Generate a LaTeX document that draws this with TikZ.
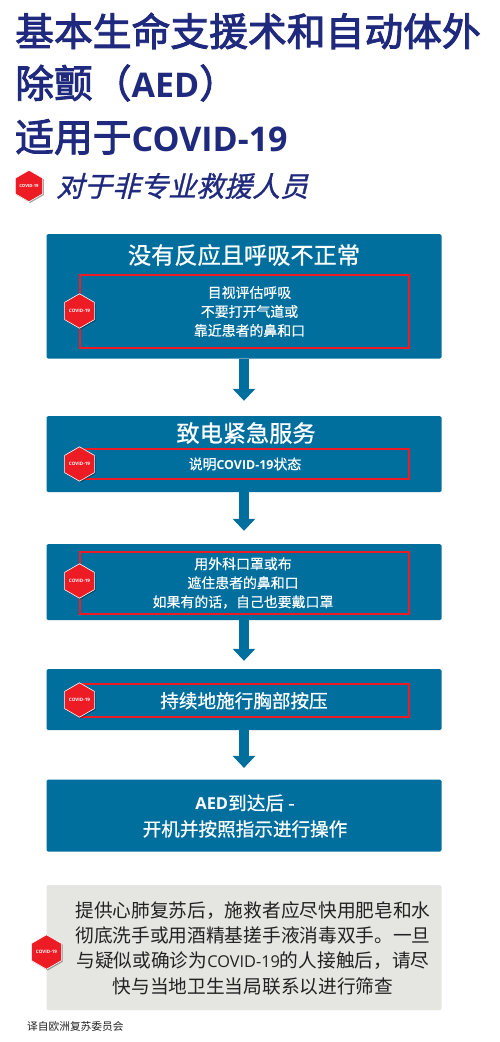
\documentclass[tikz,border=0pt]{standalone}
\usepackage{fontspec}
\setmainfont{Noto Sans CJK SC}
\newfontfamily\slantcjk[FakeSlant=0.25,FakeBold=1]{Noto Sans CJK SC}
\newfontfamily\titlecjk[FakeBold=2.4]{Noto Sans CJK SC}
\newfontfamily\headcjk[FakeBold=0.8]{Noto Sans CJK SC}
\newfontfamily\subcjk[FakeBold=0.35]{Noto Sans CJK SC}
\newfontfamily\latinf{Open Sans}
\usetikzlibrary{shapes.geometric,shadows,arrows.meta}
\definecolor{titleblue}{HTML}{1F2A7E}
\definecolor{boxblue}{HTML}{006F9E}
\definecolor{alertred}{HTML}{ED1C24}
\definecolor{notegray}{HTML}{E5E6E1}
\definecolor{notetext}{HTML}{222222}
\newcommand{\fsz}[2]{\fontsize{#1}{#2}\selectfont}
\newcommand{\lat}[2]{{\latinf\fontsize{#1}{#1}\selectfont #2}}
\newcommand{\latb}[2]{{\latinf\bfseries\fontsize{#1}{#1}\selectfont #2}}
\tikzset{
  x=1pt,y=-1pt,
  flowbox/.style={rectangle,fill=boxblue,rounded corners=1.5pt,minimum width=395pt,inner sep=0pt},
  notebox/.style={rectangle,fill=notegray,rounded corners=1.5pt,minimum width=395pt,inner sep=0pt},
  redbox/.style={rectangle,draw=alertred,line width=1.7pt,minimum width=329pt,inner sep=0pt},
  hexa/.style={regular polygon,regular polygon sides=6,shape border rotate=30,fill=alertred,draw=white,line width=.6pt,
    minimum size=31pt,inner sep=0pt,text=white,font=\latinf\bfseries\fsz{4.6}{5},
    drop shadow={shadow xshift=1.2pt,shadow yshift=-1.2pt,fill=black,opacity=.35}},
  titletext/.style={anchor=west,inner sep=0pt,text=titleblue,font=\titlecjk\fsz{38.8}{40}},
  headtext/.style={inner sep=0pt,text=white,font=\headcjk\fsz{23.2}{25}},
  subtext/.style={inner sep=0pt,text=white,align=center,font=\subcjk\fsz{13.9}{19}},
  midtext/.style={inner sep=0pt,text=white,align=center,font=\headcjk\fsz{18.6}{26}},
  flowarrow/.style={draw=boxblue,line width=10pt,-{Triangle[length=12pt,width=22pt,fill=boxblue]},shorten >=15pt},
}
\begin{document}
\begin{tikzpicture}
\useasboundingbox (0,0) rectangle (500,1042);
\fill[white] (0,0) rectangle (500,1042);

% title
\node[titletext] (t1) at (15,31) {基本生命支援术和自动体外};
\node[titletext] (t2) at (15,83) {除颤（\latb{34}{AED}）};
\node[titletext] (t3) at (15,137) {适用于\latb{34}{COVID-19}};
\node[hexa,minimum size=29pt,font=\latinf\bfseries\fsz{4.2}{5}] (h0) at (29,186) {COVID-19};
\node[anchor=west,inner sep=0pt,text=titleblue,font=\slantcjk\fsz{28}{30}] (t4) at (56,186) {对于非专业救援人员};

% flow boxes
\node[flowbox,minimum height=124.5pt] (b1) at (244,296.25) {};
\node[flowbox,minimum height=76pt] (b2) at (244,454) {};
\node[flowbox,minimum height=76pt] (b3) at (244,582) {};
\node[flowbox,minimum height=61pt] (b4) at (244,699.5) {};
\node[flowbox,minimum height=72pt] (b5) at (244,815.6) {};
\node[notebox,minimum height=125pt] (n1) at (244,947.5) {};

% connectors
\draw[flowarrow] (b1.south) -- (b2.north);
\draw[flowarrow,shorten >=13pt] (b2.south) -- (b3.north);
\draw[flowarrow,shorten >=8pt] (b3.south) -- (b4.north);
\draw[flowarrow,shorten >=11.5pt] (b4.south) -- (b5.north);

% red frames
\node[redbox,minimum height=73pt] (r1) at (244.5,311.5) {};
\node[redbox,minimum height=30pt] (r2) at (244.5,464) {};
\node[redbox,minimum height=62pt] (r3) at (244.5,583) {};
\node[redbox,minimum height=33pt] (r4) at (244.5,700.5) {};

% hexagons
\node[hexa] (h1) at (79.5,311) {COVID-19};
\node[hexa] (h2) at (79.5,464) {COVID-19};
\node[hexa] (h3) at (79.5,581) {COVID-19};
\node[hexa] (h4) at (79.5,700) {COVID-19};
\node[hexa] (h5) at (46.5,952) {COVID-19};

% box text
\node[headtext] (x1) at (244,255) {没有反应且呼吸不正常};
\node[subtext] (x2) at (249.5,311.5) {目视评估呼吸\\不要打开气道或\\靠近患者的鼻和口};
\node[headtext] (x3) at (246,433) {致电紧急服务};
\node[subtext] (x4) at (245,464) {说明\latb{12.4}{COVID-19}状态};
\node[subtext] (x5) at (243,583) {用外科口罩或布\\遮住患者的鼻和口\\如果有的话，自己也要戴口罩};
\node[midtext] (x6) at (244,700.7) {持续地施行胸部按压};
\node[midtext] (x7) at (245,816) {\latb{16.5}{AED}到达后 -\\开机并按照指示进行操作};
\node[inner sep=0pt,text=notetext,align=center,font=\fsz{18.7}{25.3}] (x8) at (253,948)
  {提供心肺复苏后，施救者应尽快用肥皂和水\\彻底洗手或用酒精基搓手液消毒双手。一旦\\与疑似或确诊为\lat{16.3}{COVID-19}的人接触后，请尽\\快与当地卫生当局联系以进行筛查};
\node[anchor=west,inner sep=0pt,text=notetext,font=\fsz{10.7}{12}] (x9) at (27,1026) {译自欧洲复苏委员会};
\end{tikzpicture}
\end{document}
